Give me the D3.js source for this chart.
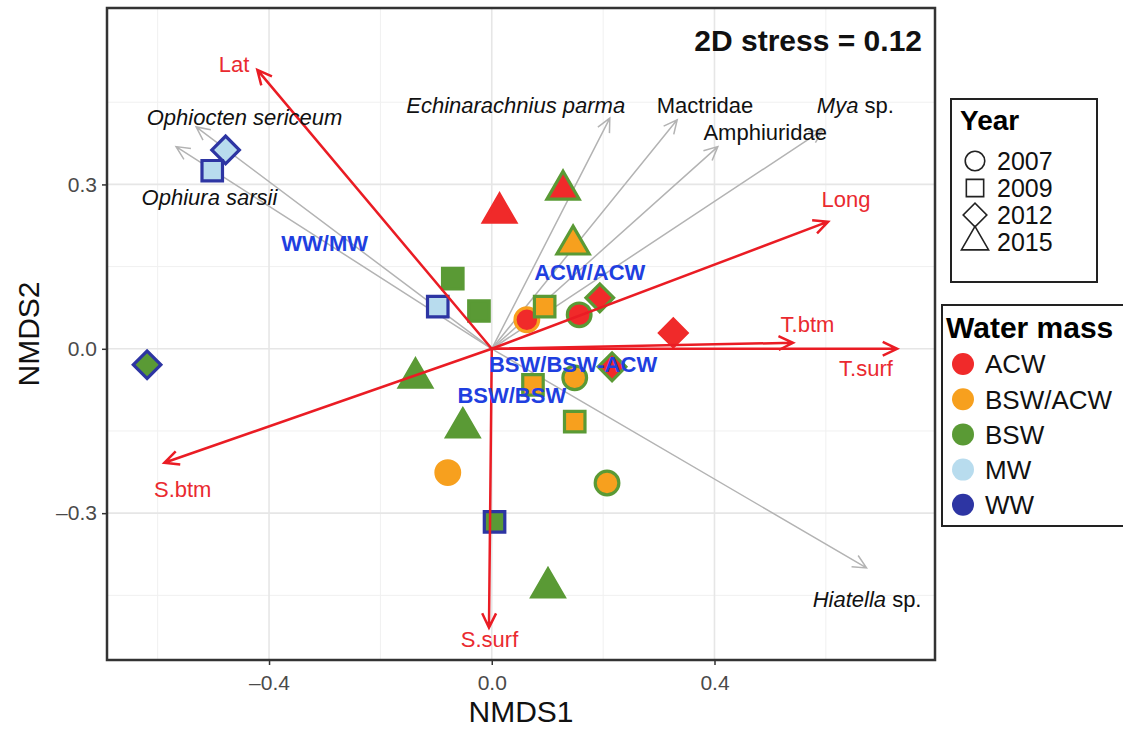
<!DOCTYPE html>
<html>
<head>
<meta charset="utf-8">
<script src="https://cdn.jsdelivr.net/npm/d3@7"></script>
<style>
  body { margin: 0; background: #fff; }
  text { font-family: "Liberation Sans", Arial, sans-serif; }
</style>
</head>
<body>
<div id="chart"></div>
<script>
// site scores: NMDS1, NMDS2, year, fill water mass, outline water mass
var siteX    = [-0.478, -0.502, -0.097, -0.619, 0.005, 0.014, 0.128, 0.146, -0.070, -0.023, 0.063, 0.095, 0.157, 0.194, 0.326, 0.216, 0.149, 0.074, 0.149, 0.207, -0.137, -0.052, -0.079, 0.101];
var siteY    = [0.363, 0.325, 0.077, -0.029, -0.316, 0.248, 0.290, 0.190, 0.128, 0.069, 0.053, 0.077, 0.062, 0.093, 0.029, -0.033, -0.053, -0.066, -0.133, -0.245, -0.053, -0.144, -0.226, -0.436];
var siteYear = [2012, 2009, 2009, 2012, 2009, 2015, 2015, 2015, 2009, 2009, 2007, 2009, 2007, 2012, 2012, 2012, 2007, 2009, 2009, 2007, 2015, 2015, 2007, 2015];
var siteFill = ["MW", "MW", "MW", "BSW", "BSW", "ACW", "ACW", "BSW/ACW", "BSW", "BSW", "ACW", "BSW/ACW", "ACW", "ACW", "ACW", "ACW", "BSW/ACW", "BSW/ACW", "BSW/ACW", "BSW/ACW", "BSW", "BSW", "BSW/ACW", "BSW"];
var siteLine = ["WW", "WW", "WW", "WW", "WW", "ACW", "BSW", "BSW", "BSW", "BSW", "BSW/ACW", "BSW", "BSW", "BSW", "ACW", "BSW", "BSW", "BSW", "BSW", "BSW", "BSW", "BSW", "BSW/ACW", "BSW"];

// environmental vectors
var envNames = ["Lat", "Long", "T.btm", "T.surf", "S.btm", "S.surf"];
var envX     = [-0.421, 0.604, 0.541, 0.728, -0.588, -0.005];
var envY     = [0.509, 0.232, 0.011, 0.000, -0.208, -0.509];
var envLabX  = [-0.463, 0.636, 0.567, 0.672, -0.555, -0.004];
var envLabY  = [0.520, 0.272, 0.044, -0.035, -0.257, -0.531];

// species vectors
var spNames  = ["Ophiocten sericeum", "Ophiura sarsii", "Echinarachnius parma", "Mactridae", "Amphiuridae", "Mya sp.", "Hiatella sp."];
var spX      = [-0.531, -0.567, 0.212, 0.333, 0.406, 0.595, 0.673];
var spY      = [0.405, 0.369, 0.421, 0.418, 0.369, 0.400, -0.400];
var spLabX   = [-0.444, -0.507, 0.043, 0.383, 0.491, 0.653, 0.674];
var spLabY   = [0.423, 0.277, 0.445, 0.445, 0.396, 0.445, -0.458];

// water mass group labels
var grpNames = ["WW/MW", "ACW/ACW", "BSW/BSW-ACW", "BSW/BSW"];
var grpX     = [-0.300, 0.176, 0.146, 0.036];
var grpY     = [0.193, 0.140, -0.029, -0.084];

var years  = [2007, 2009, 2012, 2015];
var masses = ["ACW", "BSW/ACW", "BSW", "MW", "WW"];
var massColors = ["#f02a2a", "#f7a01e", "#5a9a35", "#b8dcee", "#2d35a3"];

var xTicks = [-0.4, 0.0, 0.4];
var yTicks = [-0.3, 0.0, 0.3];

var W = 1123, H = 731;
var padL = 107, padR = 935, padT = 8, padB = 660;

var svg = d3.select("#chart").append("svg")
  .attr("width", W).attr("height", H);

var x = d3.scaleLinear().domain([-0.691, 0.796]).range([padL, padR]);
var y = d3.scaleLinear().domain([-0.568, 0.622]).range([padB, padT]);
var col = d3.scaleOrdinal().domain(masses).range(massColors);

// grid
var g = svg.append("g");
var xMinor = [-0.6, -0.2, 0.2, 0.6];
var yMinor = [-0.45, -0.15, 0.15, 0.45];
g.selectAll("line.xmin").data(xMinor).enter().append("line")
  .attr("x1", d => x(d)).attr("x2", d => x(d)).attr("y1", padT).attr("y2", padB)
  .attr("stroke", "#f0f0f0").attr("stroke-width", 1);
g.selectAll("line.ymin").data(yMinor).enter().append("line")
  .attr("y1", d => y(d)).attr("y2", d => y(d)).attr("x1", padL).attr("x2", padR)
  .attr("stroke", "#f0f0f0").attr("stroke-width", 1);
g.selectAll("line.xmaj").data(xTicks).enter().append("line")
  .attr("x1", d => x(d)).attr("x2", d => x(d)).attr("y1", padT).attr("y2", padB)
  .attr("stroke", "#e6e6e6").attr("stroke-width", 1.6);
g.selectAll("line.ymaj").data(yTicks).enter().append("line")
  .attr("y1", d => y(d)).attr("y2", d => y(d)).attr("x1", padL).attr("x2", padR)
  .attr("stroke", "#e6e6e6").attr("stroke-width", 1.6);

// axes
var xAxis = svg.append("g").attr("transform", "translate(0," + padB + ")")
  .call(d3.axisBottom(x).tickValues(xTicks).tickSizeOuter(0).tickSize(5));
var yAxis = svg.append("g").attr("transform", "translate(" + padL + ",0)")
  .call(d3.axisLeft(y).tickValues(yTicks).tickSizeOuter(0).tickSize(5));
[xAxis, yAxis].forEach(function (a) {
  a.select(".domain").remove();
  a.selectAll("line").attr("stroke", "#333").attr("stroke-width", 1.5);
  a.selectAll("text").attr("fill", "#4a4a4a").style("font-size", "21px")
    .text(function (d) { return d3.format(".1f")(d).replace("-", "\u2013").replace("\u2212", "\u2013"); });
});
xAxis.selectAll("text").attr("dy", "1.05em");
yAxis.selectAll("text").attr("dx", "-0.1em");

svg.append("text").attr("x", (padL + padR) / 2).attr("y", 722)
  .attr("text-anchor", "middle").style("font-size", "30px").attr("fill", "#111").text("NMDS1");
svg.append("text").attr("transform", "translate(39," + ((padT + padB) / 2) + ") rotate(-90)")
  .attr("text-anchor", "middle").style("font-size", "30px").attr("fill", "#111").text("NMDS2");

// arrow head helper (open chevron)
function head(x0, y0, x1, y1, len) {
  var a = Math.atan2(y1 - y0, x1 - x0), s = Math.PI / 7;
  return "M" + (x1 - len * Math.cos(a - s)) + "," + (y1 - len * Math.sin(a - s)) +
    "L" + x1 + "," + y1 +
    "L" + (x1 - len * Math.cos(a + s)) + "," + (y1 - len * Math.sin(a + s));
}

// species vectors
var sp = spNames.map(function (n, i) { return { n: n, x: spX[i], y: spY[i], lx: spLabX[i], ly: spLabY[i] }; });
svg.selectAll("path.sp").data(sp).enter().append("path")
  .attr("d", d => "M" + x(0) + "," + y(0) + "L" + x(d.x) + "," + y(d.y) + head(x(0), y(0), x(d.x), y(d.y), 15))
  .attr("fill", "none").attr("stroke", "#b3b3b3").attr("stroke-width", 1.5);

// sites
function shape(year) {
  if (year === 2007) return d3.symbol().type(d3.symbolCircle).size(440)();
  if (year === 2009) return d3.symbol().type(d3.symbolSquare).size(420)();
  if (year === 2012) return d3.symbol().type(d3.symbolSquare).size(380)();
  return d3.symbol().type(d3.symbolTriangle).size(450)();
}
var sites = siteX.map(function (v, i) {
  return { x: v, y: siteY[i], yr: siteYear[i], f: siteFill[i], s: siteLine[i] };
});
svg.selectAll("path.site").data(sites).enter().append("path")
  .attr("d", d => shape(d.yr))
  .attr("transform", d => "translate(" + x(d.x) + "," + y(d.y) + ")" + (d.yr === 2012 ? " rotate(45)" : ""))
  .attr("fill", d => col(d.f)).attr("stroke", d => col(d.s)).attr("stroke-width", 3.2);

// environmental vectors
var env = envNames.map(function (n, i) { return { n: n, x: envX[i], y: envY[i], lx: envLabX[i], ly: envLabY[i] }; });
svg.selectAll("path.env").data(env).enter().append("path")
  .attr("d", d => "M" + x(0) + "," + y(0) + "L" + x(d.x) + "," + y(d.y) + head(x(0), y(0), x(d.x), y(d.y), 16))
  .attr("fill", "none").attr("stroke", "#ea1c24").attr("stroke-width", 2.5);

svg.selectAll("text.env").data(env).enter().append("text")
  .attr("x", d => x(d.lx)).attr("y", d => y(d.ly)).attr("dy", "0.35em")
  .attr("text-anchor", "middle").attr("fill", "#ea2a30").style("font-size", "22px")
  .text(d => d.n);

// species labels (genus names in italics)
var spText = svg.selectAll("text.sp").data(sp).enter().append("text")
  .attr("x", d => x(d.lx)).attr("y", d => y(d.ly)).attr("dy", "0.35em")
  .attr("text-anchor", "middle").attr("fill", "#111").style("font-size", "22px");
spText.each(function (d) {
  var t = d3.select(this);
  if (d.n.slice(-4) === " sp.") {
    t.append("tspan").style("font-style", "italic").text(d.n.slice(0, -4));
    t.append("tspan").text(" sp.");
  } else if (d.n.indexOf(" ") > 0) {
    t.style("font-style", "italic").text(d.n);
  } else {
    t.text(d.n);
  }
});

// group labels
svg.selectAll("text.grp").data(grpNames).enter().append("text")
  .attr("x", (d, i) => x(grpX[i])).attr("y", (d, i) => y(grpY[i])).attr("dy", "0.35em")
  .attr("text-anchor", "middle").attr("fill", "#1f3fe0").style("font-size", "22px")
  .style("font-weight", "bold").text(d => d);

svg.append("text").attr("x", 922).attr("y", 51).attr("text-anchor", "end")
  .style("font-size", "30px").style("font-weight", "bold").attr("fill", "#111")
  .text("2D stress = 0.12");

// panel border
svg.append("rect").attr("x", padL).attr("y", padT).attr("width", padR - padL).attr("height", padB - padT)
  .attr("fill", "none").attr("stroke", "#333").attr("stroke-width", 2.5);

// legend: Year
var ly = svg.append("g");
ly.append("rect").attr("x", 951).attr("y", 99).attr("width", 146).attr("height", 183)
  .attr("fill", "#fff").attr("stroke", "#222").attr("stroke-width", 2);
ly.append("text").attr("x", 960).attr("y", 130).style("font-size", "28px").style("font-weight", "bold").text("Year");
var yItems = ly.selectAll("g.yi").data(years).enter().append("g")
  .attr("transform", (d, i) => "translate(975," + (161 + i * 27) + ")");
yItems.append("path")
  .attr("d", d => d === 2007 ? d3.symbol().type(d3.symbolCircle).size(300)()
                 : d === 2009 ? d3.symbol().type(d3.symbolSquare).size(300)()
                 : d === 2012 ? d3.symbol().type(d3.symbolSquare).size(280)()
                 : d3.symbol().type(d3.symbolTriangle).size(320)())
  .attr("transform", d => d === 2012 ? "rotate(45)" : "")
  .attr("fill", "none").attr("stroke", "#222").attr("stroke-width", 1.6);
yItems.append("text").attr("x", 22).attr("dy", "0.36em").style("font-size", "25px").attr("fill", "#111")
  .text(d => d);

// legend: Water mass
var lw = svg.append("g");
lw.append("rect").attr("x", 942).attr("y", 305).attr("width", 200).attr("height", 221)
  .attr("fill", "#fff").attr("stroke", "#222").attr("stroke-width", 2);
lw.append("text").attr("x", 946).attr("y", 338).style("font-size", "30px").style("font-weight", "bold").text("Water mass");
var mItems = lw.selectAll("g.mi").data(masses).enter().append("g")
  .attr("transform", (d, i) => "translate(963," + (364 + i * 35.2) + ")");
mItems.append("circle").attr("r", 11).attr("fill", d => col(d));
mItems.append("text").attr("x", 22).attr("dy", "0.36em").style("font-size", "26px").attr("fill", "#111")
  .text(d => d);
</script>
</body>
</html>
